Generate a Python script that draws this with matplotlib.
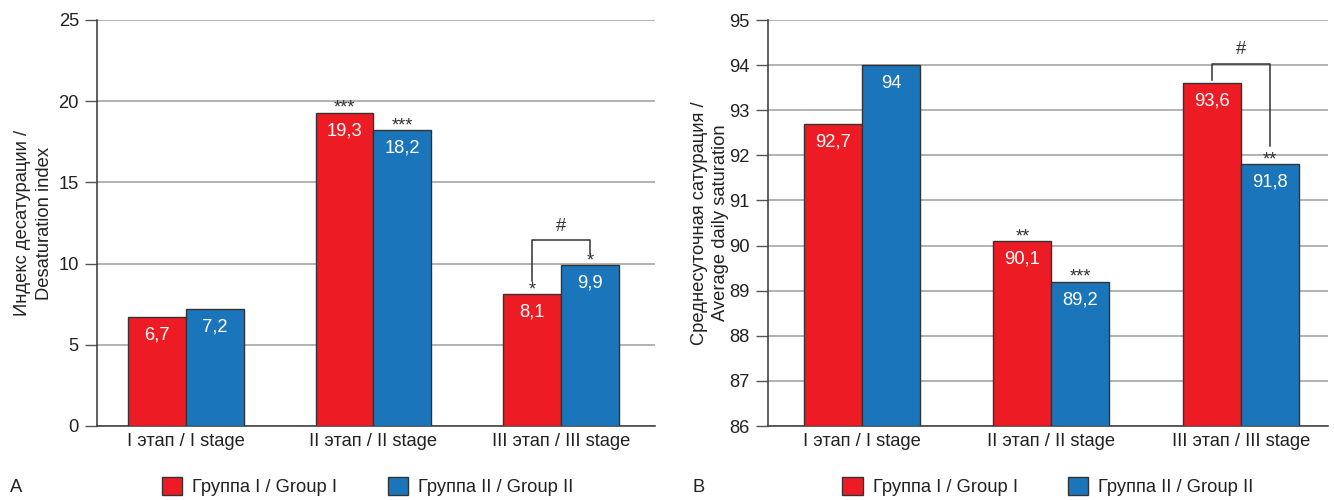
import matplotlib
matplotlib.use("Agg")
import matplotlib.pyplot as plt
from matplotlib.patches import Patch
import numpy as np

plt.rcParams['font.family'] = ['Liberation Sans', 'DejaVu Sans']

categories = ["I этап / I stage", "II этап / II stage", "III этап / III stage"]
series_names = ["Группа I / Group I", "Группа II / Group II"]

desat_g1 = [6.7, 19.3, 8.1]
desat_g2 = [7.2, 18.2, 9.9]
desat_stars_g1 = ["", "***", "*"]
desat_stars_g2 = ["", "***", "*"]

sat_g1 = [92.7, 90.1, 93.6]
sat_g2 = [94.0, 89.2, 91.8]
sat_stars_g1 = ["", "**", ""]
sat_stars_g2 = ["", "***", "**"]

RED = "#ED1C24"
BLUE = "#1B75BB"
EDGE = "#333333"
GRID = "#A6A6A6"
TXT = "#222222"
FS = 13.2

def fmt(v):
    s = ("%.1f" % v)
    if s.endswith(".0"):
        s = s[:-2]
    return s.replace(".", ",")

fig = plt.figure(figsize=(13.34, 5.0), dpi=100)
axA = fig.add_axes([0.0727, 0.148, 0.418, 0.812])
axB = fig.add_axes([0.5757, 0.148, 0.4198, 0.812])

x = np.arange(len(categories))

def setup(ax, g1, g2, s1, s2, ylim, yticks, ylabel, xlim, w, labelpad, legx):
    ax.set_xlim(*xlim)
    ax.set_ylim(*ylim)
    b0 = ylim[0]
    ax.bar(x - w/2, np.array(g1) - b0, w, bottom=b0, color=RED, edgecolor=EDGE, linewidth=1.0, zorder=3)
    ax.bar(x + w/2, np.array(g2) - b0, w, bottom=b0, color=BLUE, edgecolor=EDGE, linewidth=1.0, zorder=3)
    for xs, vals, stars in ((x - w/2, g1, s1), (x + w/2, g2, s2)):
        for xi, v, st in zip(xs, vals, stars):
            ax.annotate(fmt(v), (xi, v), xytext=(0, -18), textcoords='offset pixels',
                        ha='center', va='center', color='white', fontsize=FS, zorder=5)
            if st:
                ax.annotate(st, (xi, v), xytext=(0, -4), textcoords='offset pixels',
                            ha='center', va='bottom', color='#333333', fontsize=FS, zorder=5)
    ax.set_yticks(yticks)
    ax.set_xticks(x)
    ax.set_xticklabels(categories, fontsize=FS, color=TXT)
    ax.tick_params(axis='x', length=0, pad=5)
    ax.tick_params(axis='y', length=9, width=1, color='#555555', labelsize=FS, labelcolor=TXT, pad=4)
    ax.grid(axis='y', color=GRID, linewidth=1.2, zorder=0)
    ax.set_axisbelow(True)
    for sp in ('top', 'right'):
        ax.spines[sp].set_visible(False)
    for sp in ('left', 'bottom'):
        ax.spines[sp].set_color('#444444')
        ax.spines[sp].set_linewidth(1.2)
    ax.set_ylabel(ylabel, fontsize=FS, color=TXT, labelpad=labelpad, linespacing=1.35)
    handles = [Patch(facecolor=RED, edgecolor=EDGE, linewidth=1.0),
               Patch(facecolor=BLUE, edgecolor=EDGE, linewidth=1.0)]
    ax.legend(handles, series_names, loc='upper center', bbox_to_anchor=(legx, -0.085),
              ncol=2, frameon=False, fontsize=FS, handlelength=1.1, handleheight=1.1,
              handletextpad=0.55, columnspacing=2.75, labelcolor=TXT)

setup(axA, desat_g1, desat_g2, desat_stars_g1, desat_stars_g2, (0, 25), [0, 5, 10, 15, 20, 25],
      "Индекс десатурации /\nDesaturation index", (-0.475, 2.5), 0.309, 4, 0.485)
setup(axB, sat_g1, sat_g2, sat_stars_g1, sat_stars_g2, (86, 95), list(range(86, 96)),
      "Среднесуточная сатурация /\nAverage daily saturation", (-0.496, 2.46), 0.306, 0, 0.5)

# significance brackets
def bracket(ax, xl, yl, xr, yr, ytop, ytext):
    ax.plot([xl, xl, xr, xr], [yl, ytop, ytop, yr], color='#333333', linewidth=1.1, zorder=4)
    ax.text((xl + xr) / 2, ytext, "#", ha='center', va='center', fontsize=FS, color='#333333')

bracket(axA, 2 - 0.309/2, 8.9, 2 + 0.309/2, 10.6, 11.45, 12.3)
bracket(axB, 2 - 0.306/2, 93.67, 2 + 0.306/2, 92.2, 94.03, 94.34)

fig.text(10/1334, 1 - 488/500, "A", fontsize=FS, color=TXT, va='center')
fig.text(693/1334, 1 - 488/500, "B", fontsize=FS, color=TXT, va='center')

fig.savefig("out.png", dpi=100)
